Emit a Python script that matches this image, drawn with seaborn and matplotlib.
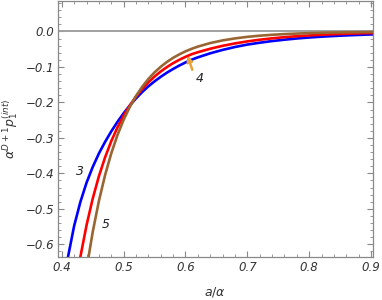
import numpy as np
import pandas as pd
import matplotlib
matplotlib.use("Agg")
import matplotlib.pyplot as plt
from matplotlib.ticker import MultipleLocator
import seaborn as sns

# --- data ---
x_d3 = [0.40, 0.41, 0.42, 0.43, 0.44, 0.45, 0.46, 0.47, 0.48, 0.49, 0.50, 0.51, 0.52, 0.53,
        0.54, 0.55, 0.56, 0.57, 0.58, 0.59, 0.60, 0.61, 0.62, 0.64, 0.66, 0.68, 0.70, 0.72,
        0.74, 0.76, 0.78, 0.80, 0.82, 0.84, 0.86, 0.88, 0.90, 0.91]
y_d3 = [-0.754, -0.636, -0.548, -0.481, -0.4266, -0.3822, -0.344, -0.3113, -0.2817, -0.2549,
        -0.2306, -0.2087, -0.1888, -0.1708, -0.1546, -0.1406, -0.1278, -0.1162, -0.1057,
        -0.0961, -0.0874, -0.0795, -0.0730, -0.0616, -0.0520, -0.0438, -0.0370, -0.0317,
        -0.0271, -0.0232, -0.0198, -0.0170, -0.0147, -0.0128, -0.0111, -0.0097, -0.0084,
        -0.0079]

x_d4 = [0.42, 0.43, 0.44, 0.45, 0.46, 0.47, 0.48, 0.49, 0.50, 0.51, 0.52, 0.53, 0.54, 0.55,
        0.56, 0.57, 0.58, 0.59, 0.60, 0.61, 0.62, 0.64, 0.66, 0.68, 0.70, 0.72, 0.74, 0.76,
        0.78, 0.80, 0.82, 0.84, 0.86, 0.88, 0.90, 0.91]
y_d4 = [-0.744, -0.636, -0.5466, -0.4714, -0.4082, -0.3549, -0.3094, -0.2706, -0.2374,
        -0.2087, -0.1838, -0.1622, -0.1434, -0.1271, -0.1128, -0.1004, -0.0894, -0.0799,
        -0.0715, -0.0641, -0.0585, -0.0487, -0.0405, -0.0337, -0.0280, -0.0233, -0.0194,
        -0.0161, -0.0134, -0.0112, -0.0093, -0.0077, -0.0064, -0.0053, -0.0044, -0.0041]

x_d5 = [0.43, 0.44, 0.45, 0.46, 0.47, 0.48, 0.49, 0.50, 0.51, 0.52, 0.53, 0.54, 0.55, 0.56,
        0.57, 0.58, 0.59, 0.60, 0.61, 0.62, 0.64, 0.66, 0.68, 0.70, 0.72, 0.74, 0.76, 0.78,
        0.80, 0.82, 0.84, 0.86, 0.88, 0.90, 0.91]
y_d5 = [-0.793, -0.670, -0.5655, -0.4781, -0.4050, -0.3437, -0.2923, -0.2491, -0.2127,
        -0.1820, -0.1560, -0.1340, -0.1153, -0.0995, -0.0860, -0.0744, -0.0646, -0.0561,
        -0.0489, -0.0427, -0.0327, -0.0252, -0.0196, -0.0152, -0.0119, -0.0094, -0.0074,
        -0.0059, -0.0047, -0.0037, -0.0030, -0.0024, -0.0020, -0.0016, -0.0014]

series_names = ["3", "4", "5"]
series_colors = ["#0000FF", "#FF0000", "#996633"]

x_ticks = [0.4, 0.5, 0.6, 0.7, 0.8, 0.9]
y_ticks = [0.0, -0.1, -0.2, -0.3, -0.4, -0.5, -0.6]

df = pd.concat([
    pd.DataFrame({"x": x_d3, "y": y_d3, "D": "3"}),
    pd.DataFrame({"x": x_d4, "y": y_d4, "D": "4"}),
    pd.DataFrame({"x": x_d5, "y": y_d5, "D": "5"}),
], ignore_index=True)

sns.set_style("ticks")
plt.rcParams["font.family"] = ["DejaVu Sans"]
plt.rcParams["mathtext.fontset"] = "dejavusans"

fig = plt.figure(figsize=(3.82, 3.0), dpi=100)
ax = fig.add_axes([0.152, 0.143, 0.824, 0.855])

ax.axhline(0, color="#a0a0a0", lw=1.4, zorder=1)

sns.lineplot(data=df, x="x", y="y", hue="D", palette=dict(zip(series_names, series_colors)),
             hue_order=series_names, lw=1.9, legend=False, ax=ax, sort=True,
             estimator=None)

ax.set_xlim(0.394, 0.903)
ax.set_ylim(-0.636, 0.087)
ax.set_xticks(x_ticks)
ax.set_yticks(y_ticks)
ax.set_xticklabels([f"{v:.1f}" for v in x_ticks], fontstyle="italic", fontsize=8.5)
ax.set_yticklabels([f"{v:.1f}".replace("-", "\u2212") for v in y_ticks],
                   fontstyle="italic", fontsize=8.5)
ax.xaxis.set_minor_locator(MultipleLocator(0.02))
ax.yaxis.set_minor_locator(MultipleLocator(0.02))
ax.tick_params(which="both", direction="in", top=True, right=True, color="#888888",
               labelcolor="#333333")
ax.tick_params(which="major", length=4, width=0.8, pad=3)
ax.tick_params(which="minor", length=2, width=0.6)
for s in ax.spines.values():
    s.set_color("#888888")
    s.set_linewidth(0.9)

ax.set_xlabel(r"$a/\alpha$", fontsize=9, color="#333333", labelpad=8)
ax.set_ylabel(r"$\alpha^{D+1}p_1^{(int)}$", fontsize=9, color="#333333", labelpad=4)

ax.text(0.4287, -0.396, "3", fontsize=9, fontstyle="italic", ha="center", va="center",
        color="#222222")
ax.text(0.4714, -0.545, "5", fontsize=9, fontstyle="italic", ha="center", va="center",
        color="#222222")
ax.text(0.6224, -0.132, "4", fontsize=9, fontstyle="italic", ha="center", va="center",
        color="#222222")
ax.annotate("", xy=(0.6034, -0.068), xytext=(0.611, -0.108),
            arrowprops=dict(arrowstyle="-|>", color="#E8A33A", lw=1.8,
                            mutation_scale=8, shrinkA=0, shrinkB=0))

fig.savefig("out.png", dpi=100)
